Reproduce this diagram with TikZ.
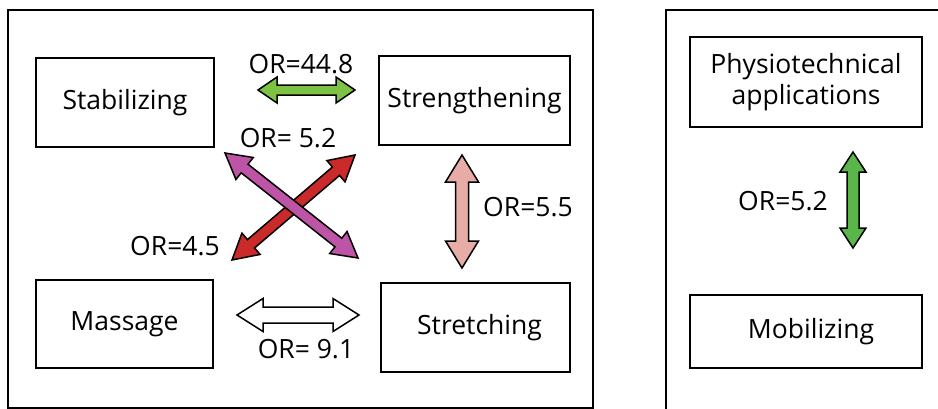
\documentclass[tikz,border=0pt]{standalone}
\usepackage{fontspec}
\setmainfont{Open Sans}
\usetikzlibrary{calc}

\definecolor{orgreen}{RGB}{125,194,66}
\definecolor{orpink}{RGB}{231,172,166}
\definecolor{orred}{RGB}{203,42,42}
\definecolor{ormagenta}{RGB}{189,84,166}
\definecolor{ordkgreen}{RGB}{90,182,74}

\tikzset{
  groupframe/.style={draw=black, line width=2pt},
  termbox/.style={draw=black, line width=1.8pt, rectangle, inner sep=0pt,
    align=center, font=\fontsize{26.5}{31}\selectfont},
  orlabel/.style={font=\fontsize{26.5}{30}\selectfont, inner sep=0pt, anchor=base},
  arrowshape/.style={draw=black, line width=1.5pt, line join=miter}
}

% Double-headed block arrow from #2 to #3.
% #1 fill style, #4 half shaft width, #5 half head width, #6 head length
\newcommand\orarrow[6]{%
  \draw[arrowshape,#1] (#2)
    -- ($(#2)!#6!(#3)!#5!90:(#3)$)
    -- ($(#2)!#6!(#3)!#4!90:(#3)$)
    -- ($(#3)!#6!(#2)!#4!90:(#3)$)
    -- ($(#3)!#6!(#2)!#5!90:(#3)$)
    -- (#3)
    -- ($(#3)!#6!(#2)!#5!-90:(#3)$)
    -- ($(#3)!#6!(#2)!#4!-90:(#3)$)
    -- ($(#2)!#6!(#3)!#4!-90:(#3)$)
    -- ($(#2)!#6!(#3)!#5!-90:(#3)$)
    -- cycle;}

\begin{document}
\begin{tikzpicture}[x=1pt,y=-1pt]
  \useasboundingbox (0,0) rectangle (938,408);
  \clip (0,0) rectangle (938,408);

  % group frames
  \draw[groupframe] (8,10) rectangle (593,408);
  \draw[groupframe] (666,10) rectangle (950,420);

  % exercise boxes
  \node[termbox, minimum width=178pt, minimum height=89pt] (stab) at (125,102.5) {Stabilizing};
  \node[termbox, minimum width=191pt, minimum height=89pt] (streng) at (474.5,100.5) {Strengthening};
  \node[termbox, minimum width=177pt, minimum height=88pt] (mass) at (124.5,324) {Massage};
  \node[termbox, minimum width=189pt, minimum height=89pt] (stretch) at (475.5,327.5) {\hspace*{8pt}Stretching};
  \node[termbox, minimum width=232pt, minimum height=90pt] (physio) at (806,82) {Physiotechnical\\applications};
  \node[termbox, minimum width=232pt, minimum height=73pt] (mobil) at (806,331.5) {\hspace*{10pt}Mobilizing};

  % arrow end points
  \coordinate (gA) at (258,90);   \coordinate (gB) at (355,90);
  \coordinate (pA) at (462,155);  \coordinate (pB) at (462,268);
  \coordinate (wA) at (237,315);  \coordinate (wB) at (359,315);
  \coordinate (rA) at (232,260);  \coordinate (rB) at (355,155);
  \coordinate (mA) at (225,153);  \coordinate (mB) at (358,258);
  \coordinate (dA) at (853,152);  \coordinate (dB) at (853,248);

  % odds-ratio arrows
  \orarrow{fill=orgreen}{gA}{gB}{5pt}{13pt}{19pt}
  \orarrow{fill=orpink}{pA}{pB}{6.5pt}{16.5pt}{27pt}
  \orarrow{fill=white}{wA}{wB}{8pt}{16.5pt}{26pt}
  \orarrow{fill=orred}{rA}{rB}{5.5pt}{14pt}{25pt}
  \orarrow{fill=ormagenta}{mA}{mB}{5.5pt}{14pt}{25pt}
  \orarrow{fill=ordkgreen}{dA}{dB}{6pt}{13pt}{20pt}

  % odds-ratio labels
  \node[orlabel] (l1) at (301,73) {OR=44.8};
  \node[orlabel] (l2) at (288,147) {OR= 5.2};
  \node[orlabel] (l3) at (175,255) {OR=4.5};
  \node[orlabel] (l4) at (528,216) {OR=5.5};
  \node[orlabel] (l5) at (306,358) {OR= 9.1};
  \node[orlabel] (l6) at (783,210) {OR=5.2};
\end{tikzpicture}
\end{document}
